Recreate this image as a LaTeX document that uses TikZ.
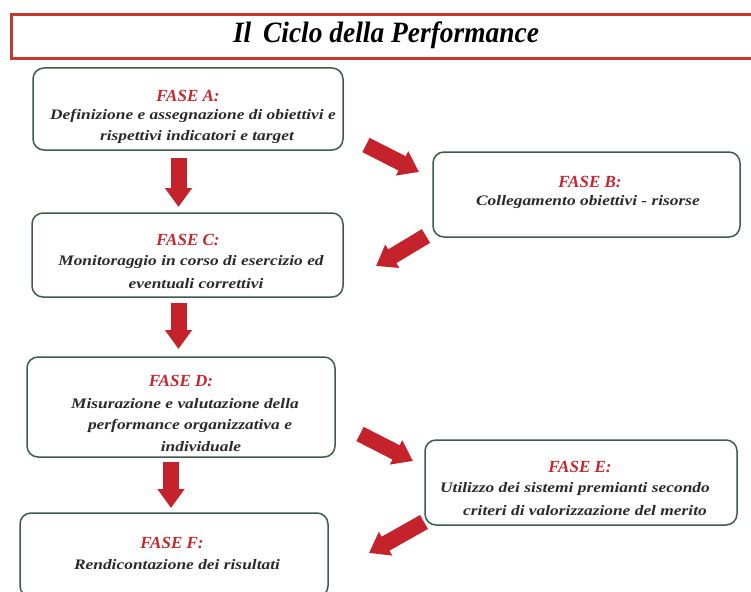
\documentclass[tikz,border=0pt]{standalone}
\usepackage{fontspec}
\setmainfont{Liberation Serif}
\newfontfamily\bodyfont[FakeStretch=1.2]{Liberation Serif}
\newfontfamily\titlefont[FakeStretch=0.93]{Liberation Serif}
\usetikzlibrary{arrows.meta}
\definecolor{boxline}{HTML}{3F5B4A}
\definecolor{arrowred}{HTML}{C5232B}
\definecolor{fasered}{HTML}{C4272E}
\definecolor{titlered}{HTML}{C2392F}
\definecolor{textdark}{HTML}{2A2A2A}
\tikzset{
  phasebox/.style={draw=boxline, line width=1.5pt, rounded corners=11pt, fill=white, inner sep=0pt},
  fasetxt/.style={text=fasered, font=\fontsize{17}{20}\selectfont\bfseries\itshape, inner sep=0pt},
  bodytxt/.style={text=textdark, font=\bodyfont\fontsize{14.5}{17}\selectfont\bfseries\itshape, inner sep=0pt},
  bigarrow/.style={draw=arrowred, line width=16pt, -{Triangle[length=19pt, width=26pt]}},
}
\begin{document}
\begin{tikzpicture}[x=1pt, y=-1pt]
\useasboundingbox (0,0) rectangle (751,591);
\clip (0,0) rectangle (751,591);
% title
\node[draw=titlered, line width=3pt, minimum width=760pt, minimum height=44pt, anchor=north west, inner sep=0pt] (title) at (10,13) {};
\node[font=\titlefont\fontsize{29.5}{32}\selectfont\bfseries\itshape, text=black, inner sep=0pt] (titletext) at (386,35) {Il\, Ciclo della Performance};
% boxes
\node[phasebox, minimum width=310pt, minimum height=82pt] (A) at (188,109) {};
\node[phasebox, minimum width=307pt, minimum height=85pt] (B) at (586.5,194.5) {};
\node[phasebox, minimum width=311pt, minimum height=84pt] (C) at (187.5,255) {};
\node[phasebox, minimum width=308pt, minimum height=100pt] (D) at (181,407) {};
\node[phasebox, minimum width=312pt, minimum height=85pt] (E) at (581,482.5) {};
\node[phasebox, minimum width=308pt, minimum height=84pt] (F) at (174,555) {};
% texts
\node[fasetxt] (At) at (188,96) {FASE A:};
\node[bodytxt] (A1) at (193,116) {Definizione e assegnazione di obiettivi e};
\node[bodytxt] (A2) at (197,137) {rispettivi indicatori e target};
\node[fasetxt] (Bt) at (590,182) {FASE B:};
\node[bodytxt] (B1) at (588,202) {Collegamento obiettivi - risorse};
\node[fasetxt] (Ct) at (188,240) {FASE C:};
\node[bodytxt] (C1) at (191,262) {Monitoraggio in corso di esercizio ed};
\node[bodytxt] (C2) at (196,284) {eventuali correttivi};
\node[fasetxt] (Dt) at (181,381) {FASE D:};
\node[bodytxt] (D1) at (185,404) {Misurazione e valutazione della};
\node[bodytxt] (D2) at (190,426) {performance organizzativa e};
\node[bodytxt] (D3) at (201,447) {individuale};
\node[fasetxt] (Et) at (580,467) {FASE E:};
\node[bodytxt] (E1) at (575,489) {Utilizzo dei sistemi premianti secondo};
\node[bodytxt] (E2) at (585,511) {criteri di valorizzazione del merito};
\node[fasetxt] (Ft) at (172,543) {FASE F:};
\node[bodytxt] (F1) at (177,565) {Rendicontazione dei risultati};
% arrow ends
\coordinate (acS) at (178.5,158);
\coordinate (acE) at (178.5,207);
\coordinate (abS) at (366,145);
\coordinate (abE) at (419,172);
\coordinate (bcS) at (426,236);
\coordinate (bcE) at (376,266);
\coordinate (cdS) at (178.5,303);
\coordinate (cdE) at (178.5,349);
\coordinate (deS) at (360,434);
\coordinate (deE) at (413,461);
\coordinate (dfS) at (171,462);
\coordinate (dfE) at (171,508);
\coordinate (efS) at (424,522);
\coordinate (efE) at (369,553);
\draw[bigarrow] (acS) -- (acE);
\draw[bigarrow] (abS) -- (abE);
\draw[bigarrow] (bcS) -- (bcE);
\draw[bigarrow] (cdS) -- (cdE);
\draw[bigarrow] (deS) -- (deE);
\draw[bigarrow] (dfS) -- (dfE);
\draw[bigarrow] (efS) -- (efE);
\end{tikzpicture}
\end{document}
